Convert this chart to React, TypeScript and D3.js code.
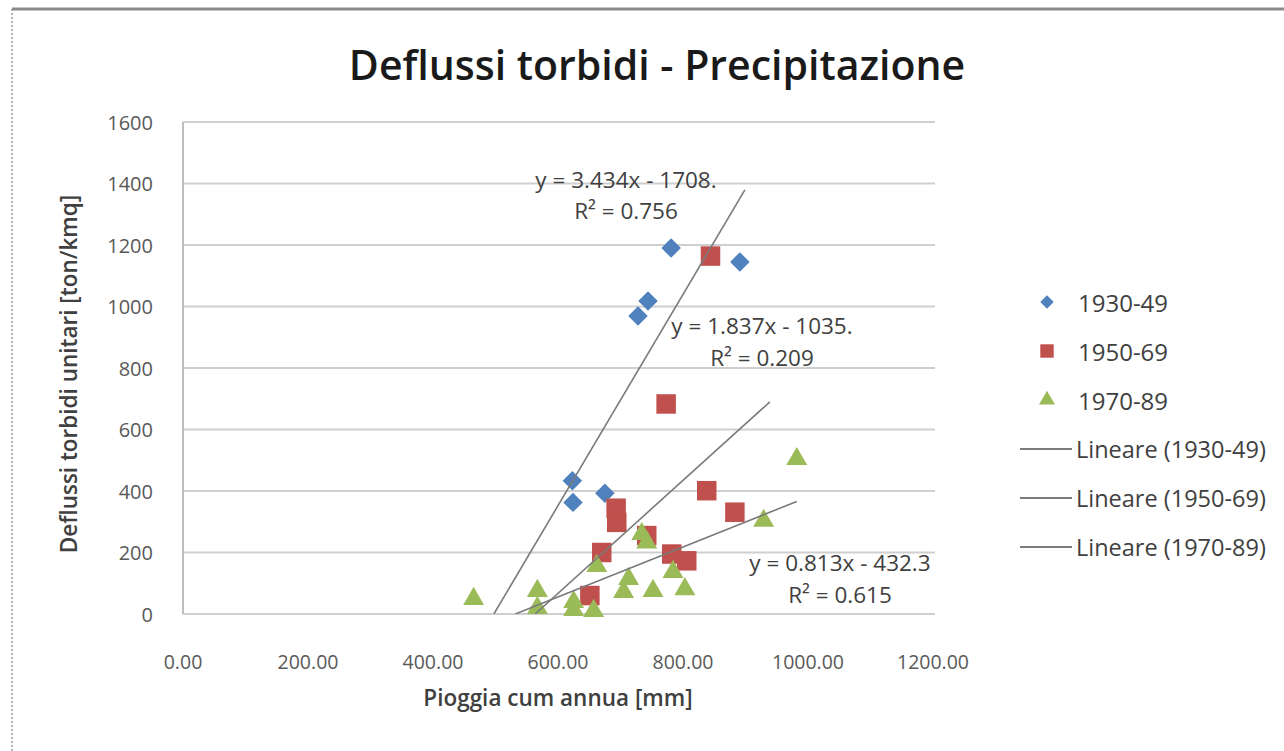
import React from "react";
import * as d3 from "d3";

// ---- data ----
const seriesNames = ["1930-49", "1950-69", "1970-89"];
const rain1930 = [781, 891, 744, 728, 623, 624, 675];
const sed1930 = [1190, 1145, 1018, 969, 433, 363, 393];
const rain1950 = [844, 773, 838, 883, 693, 694, 670, 782, 806, 651, 742];
const sed1950 = [1164, 683, 401, 331, 344, 298, 200, 195, 173, 60, 255];
const rain1970 = [465, 567, 567, 625, 625, 657, 662, 705, 713, 734, 742, 752, 784, 803, 929, 982];
const sed1970 = [49, 75, 20, 39, 13, 10, 156, 72, 114, 260, 233, 75, 137, 81, 303, 504];

const trendSlope = [3.434, 1.837, 0.813];
const trendIntercept = [-1708, -1035, -432.3];
const trendXStart = [450, 450, 450];
const trendXEnd = [899, 939, 982];
const trendEq = ["y = 3.434x - 1708.", "y = 1.837x - 1035.", "y = 0.813x - 432.3"];
const trendR2 = ["R\u00B2 = 0.756", "R\u00B2 = 0.209", "R\u00B2 = 0.615"];

const xTicks = [0, 200, 400, 600, 800, 1000, 1200];
const yTicks = [0, 200, 400, 600, 800, 1000, 1200, 1400, 1600];

const colors = ["#4F81BD", "#C0504D", "#9BBB59"];

// layout
const W = 1284, H = 751;
const plot = { left: 183, right: 933, top: 122, bottom: 614 };
const eqPos = [
  { x: 626, y: 179, ry: 210 },
  { x: 762, y: 325, ry: 357 },
  { x: 840, y: 562, ry: 594 },
];
const FONT = "'Open Sans', 'Noto Sans', sans-serif";

const symbols = [d3.symbolSquare, d3.symbolSquare, d3.symbolTriangle];
const rotations = [45, 0, 0];
const symSize = [190, 380, 190];
const legSize = [90, 180, 110];

export default function App() {
  const x = d3.scaleLinear().domain([0, 1200]).range([plot.left, plot.right]);
  const y = d3.scaleLinear().domain([0, 1600]).range([plot.bottom, plot.top]);
  const data = [
    rain1930.map((r, i) => [r, sed1930[i]]),
    rain1950.map((r, i) => [r, sed1950[i]]),
    rain1970.map((r, i) => [r, sed1970[i]]),
  ];
  const line = d3.line<number[]>().x((d) => x(d[0])).y((d) => y(d[1]));

  return (
    <svg width={W} height={H} style={{ position: "absolute", left: 0, top: 0, background: "#fff" }} fontFamily={FONT}>
      <defs>
        <clipPath id="plotclip">
          <rect x={plot.left} y={plot.top - 40} width={plot.right - plot.left + 40} height={plot.bottom - plot.top + 40} />
        </clipPath>
      </defs>
      {/* chart border */}
      <line x1={12} x2={W} y1={9} y2={9} stroke="#8a8a8a" strokeWidth={3} />
      <line x1={12} x2={12} y1={9} y2={H} stroke="#9a9a9a" strokeWidth={1.5} strokeDasharray="2,2" />

      {/* title */}
      <text x={657} y={64} textAnchor="middle" dominantBaseline="central" fontSize={41} fontWeight={600} fill="#1a1a1a">
        Deflussi torbidi - Precipitazione
      </text>

      {/* gridlines */}
      {yTicks.map((t) => (
        <line key={t} x1={plot.left} x2={plot.right + 2} y1={y(t)} y2={y(t)} stroke="#cfcfcf" strokeWidth={2} />
      ))}
      <line x1={plot.left} x2={plot.left} y1={plot.top} y2={plot.bottom} stroke="#bdbdbd" strokeWidth={2} />

      {/* y tick labels */}
      {yTicks.map((t) => (
        <text key={t} x={153} y={y(t)} textAnchor="end" dominantBaseline="central" fontSize={20} fill="#595959">
          {t}
        </text>
      ))}
      {/* x tick labels */}
      {xTicks.map((t) => (
        <text key={t} x={x(t)} y={661} textAnchor="middle" dominantBaseline="central" fontSize={19.5} fill="#595959">
          {t.toFixed(2)}
        </text>
      ))}

      {/* axis titles */}
      <text x={558} y={697} textAnchor="middle" dominantBaseline="central" fontSize={22.5} fontWeight={600} fill="#404040">
        Pioggia cum annua [mm]
      </text>
      <text
        transform={`translate(68, ${(plot.top + plot.bottom) / 2 + 6}) rotate(-90)`}
        textAnchor="middle"
        dominantBaseline="central"
        fontSize={22.5}
        fontWeight={600}
        fill="#404040"
      >
        Deflussi torbidi unitari [ton/kmq]
      </text>

      {/* markers */}
      {data.map((s, si) =>
        s.map((d, i) => (
          <path
            key={`${si}-${i}`}
            d={d3.symbol().type(symbols[si]).size(symSize[si])() || ""}
            transform={`translate(${x(d[0])},${y(d[1])}) rotate(${rotations[si]})`}
            fill={colors[si]}
          />
        ))
      )}

      {/* trend lines */}
      <g clipPath="url(#plotclip)">
        {trendSlope.map((m, i) => {
          const x0 = Math.max(trendXStart[i], -trendIntercept[i] / m);
          const x1 = trendXEnd[i];
          const pts = [[x0, m * x0 + trendIntercept[i]], [x1, m * x1 + trendIntercept[i]]];
          return <path key={i} d={line(pts) || ""} stroke="#7a7a7a" strokeWidth={1.6} fill="none" />;
        })}
      </g>

      {/* equations */}
      {trendEq.map((t, i) => (
        <g key={i} fontSize={22.5} fill="#404040" textAnchor="middle">
          <text x={eqPos[i].x} y={eqPos[i].y} dominantBaseline="central">{t}</text>
          <text x={eqPos[i].x} y={eqPos[i].ry} dominantBaseline="central">{trendR2[i]}</text>
        </g>
      ))}

      {/* legend */}
      {seriesNames.map((n, i) => (
        <g key={n} transform={`translate(0, ${302 + i * 49})`}>
          <path d={d3.symbol().type(symbols[i]).size(legSize[i])() || ""} transform={`translate(1047,0) rotate(${rotations[i]})`} fill={colors[i]} />
          <text x={1078} y={0} dominantBaseline="central" fontSize={24} fill="#404040">{n}</text>
        </g>
      ))}
      {seriesNames.map((n, i) => (
        <g key={"l" + n} transform={`translate(0, ${302 + (i + 3) * 49})`}>
          <line x1={1020} x2={1072} y1={0} y2={0} stroke="#7a7a7a" strokeWidth={2} />
          <text x={1076} y={0} dominantBaseline="central" fontSize={23.5} fill="#404040">{`Lineare (${n})`}</text>
        </g>
      ))}
    </svg>
  );
}
